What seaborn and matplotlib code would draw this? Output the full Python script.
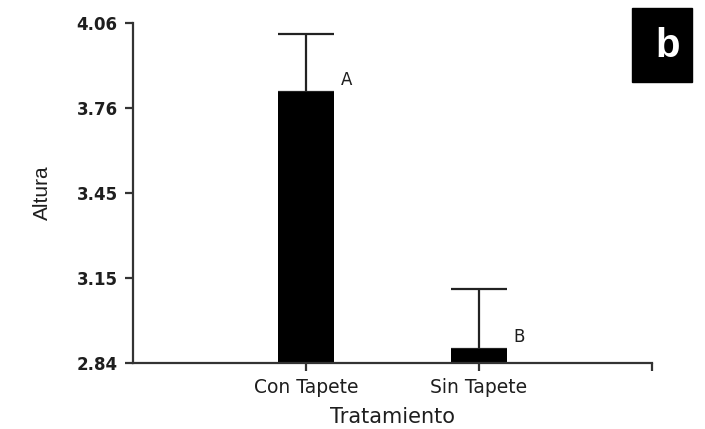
import matplotlib
matplotlib.use("Agg")
import matplotlib.pyplot as plt
import seaborn as sns
import numpy as np
import pandas as pd

# Mean height per treatment, upper error and significance letters
tratamientos = ["Con Tapete", "Sin Tapete"]
altura_media = [3.812, 2.890]
error_sup = [0.208, 0.215]
letras = ["A", "B"]
ytick_vals = [2.84, 3.145, 3.45, 3.755, 4.06]
ytick_labels = ["2.84", "3.15", "3.45", "3.76", "4.06"]

sns.set_theme(style="ticks")
plt.rcParams["font.family"] = ["DejaVu Sans"]

INK = "#1e1e1e"

fig = plt.figure(figsize=(7.05, 4.29), dpi=100)
ax = fig.add_axes([133 / 705, 1 - 363 / 429, (652 - 133) / 705, (363 - 23) / 429])

df = pd.DataFrame({"Tratamiento": tratamientos, "Altura": altura_media})
sns.barplot(data=df, x="Tratamiento", y="Altura", color="black",
            width=0.32, saturation=1, errorbar=None, ax=ax, zorder=2,
            edgecolor="black", linewidth=0)

xs = np.arange(len(tratamientos))
ax.errorbar(xs, altura_media, yerr=[np.zeros(len(xs)), error_sup],
            fmt="none", ecolor="#222222", elinewidth=1.6, capsize=20,
            capthick=1.6, zorder=1)

for x, m, lt in zip(xs, altura_media, letras):
    ax.text(x + 0.2, m + 0.045, lt, fontsize=12, color=INK,
            ha="left", va="center")

ax.set_xlim(-1, 2)
ax.set_ylim(2.84, 4.06)
ax.set_yticks(ytick_vals)
ax.set_yticklabels(ytick_labels, fontsize=12, fontweight="bold", color=INK)
ax.set_xticks(xs)
ax.set_xticklabels(tratamientos, fontsize=13.5, color=INK)
ax.set_xticks([2], minor=True)
ax.tick_params(axis="x", which="both", length=6, width=1.6, color="#333333", pad=5)
ax.tick_params(axis="y", length=6, width=1.6, color="#333333", pad=5)

ax.set_xlabel("Tratamiento", fontsize=15, color=INK, labelpad=7)
ax.set_ylabel("Altura", fontsize=15, color=INK, labelpad=18,
              family="Liberation Sans")

sns.despine(ax=ax)
for s in ("left", "bottom"):
    ax.spines[s].set_linewidth(1.6)
    ax.spines[s].set_color("#333333")

# Panel letter box
fig.patches.append(plt.Rectangle((632 / 705, 1 - 82 / 429), 60 / 705, 74 / 429,
                                 transform=fig.transFigure, color="black",
                                 zorder=5))
fig.text(668 / 705, 1 - 46 / 429, "b", color="white", fontsize=29,
         fontweight="bold", ha="center", va="center", zorder=6,
         family="Liberation Sans")

fig.savefig("out.png", dpi=100)
